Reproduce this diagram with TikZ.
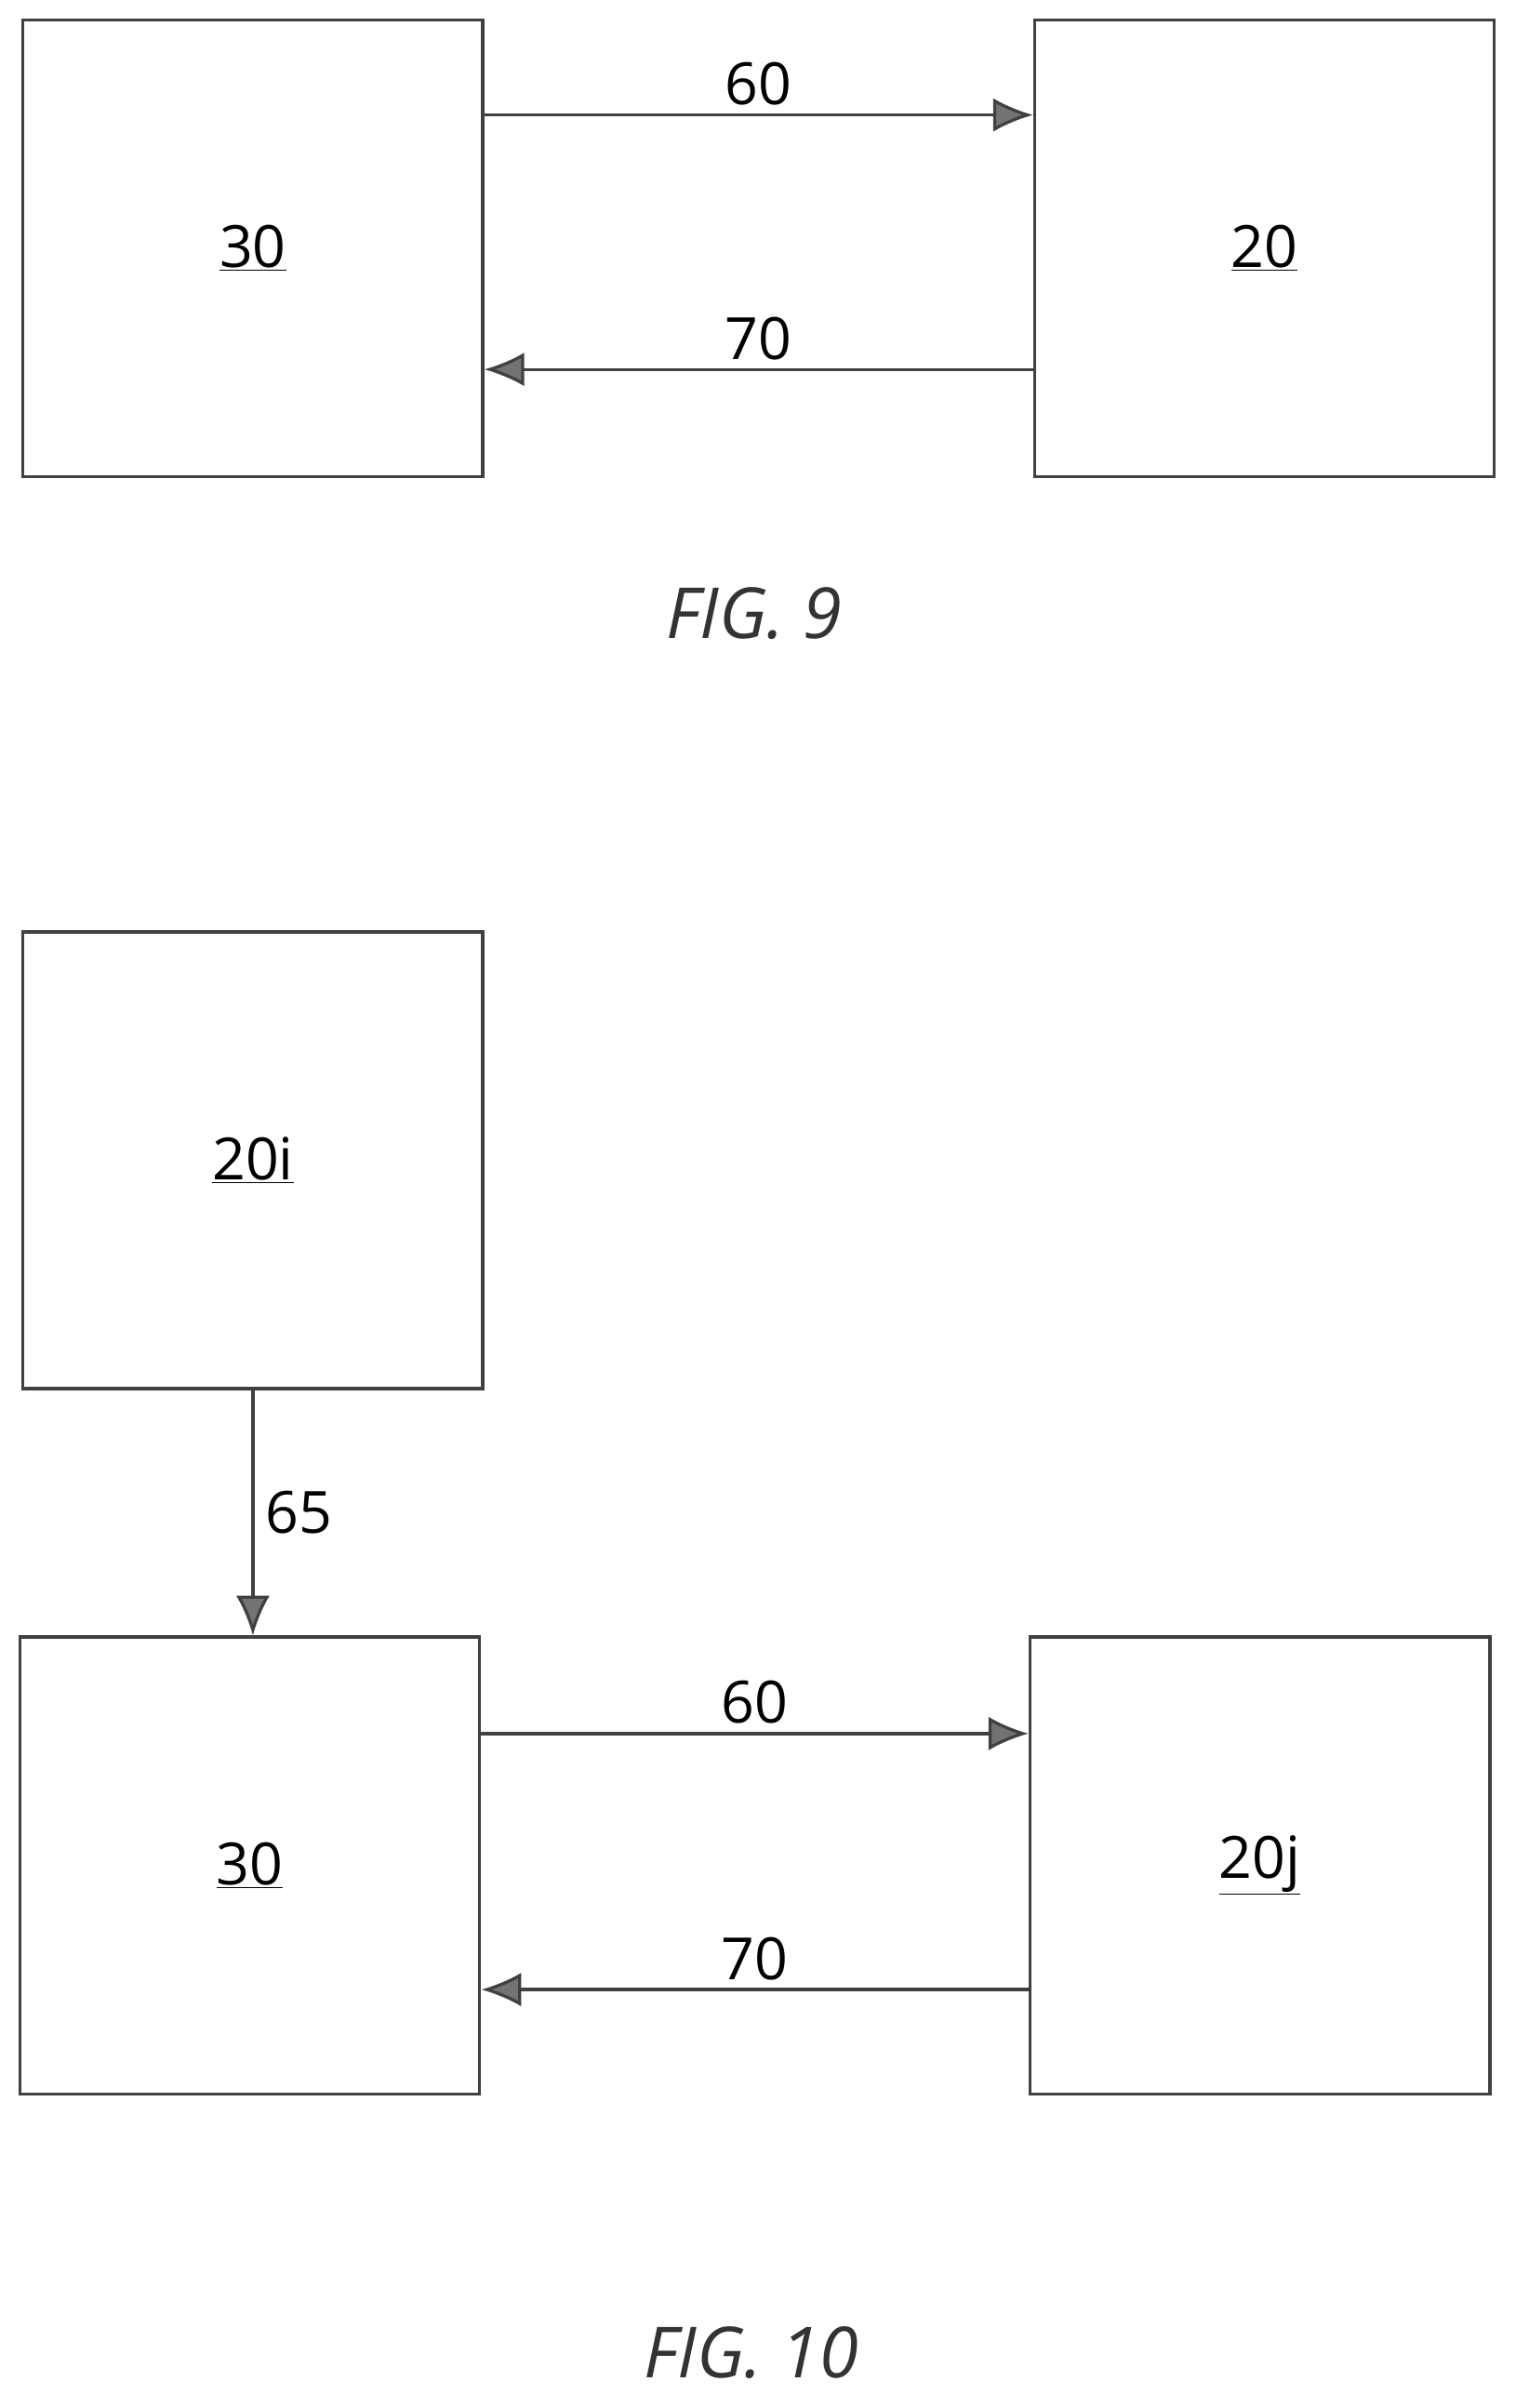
\documentclass[tikz,border=0pt]{standalone}
\usepackage{fontspec}
\setmainfont{Open Sans}
\usetikzlibrary{arrows.meta}
\tikzset{every picture/.style={line width=2pt}}
\tikzset{blk/.style={draw=black!75,minimum width=300pt,minimum height=298pt,inner sep=0pt,font=\fontsize{38}{42}\selectfont},
  lnk/.style={draw=black!75,-{Latex[length=26pt,width=22pt,fill=black!55]}},
  lbl/.style={font=\fontsize{38}{42}\selectfont},
  figcap/.style={font=\fontsize{46}{50}\selectfont\itshape,text=black!80}}
\begin{document}
\begin{tikzpicture}[x=1pt,y=1pt,yscale=-1,xscale=1]
	\useasboundingbox (0,0) rectangle (989,1571);
	% Fig. 9
	\node [blk] (a30) at (165,162) {\underline{30}};
	\node [blk] (a20) at (825,162) {\underline{20}};
	\draw [lnk] ([yshift=-87pt]a30.east) -- ([yshift=-87pt]a20.west) node [lbl,midway,above=2pt] {60};
	\draw [lnk] ([yshift=79pt]a20.west) -- ([yshift=79pt]a30.east) node [lbl,midway,above=2pt] {70};
	\node [figcap] (f9) at (492,400) {FIG. 9};
	% Fig. 10
	\node [blk] (b20i) at (165,757) {\underline{20i}};
	\node [blk] (b30) at (163,1217) {\underline{30}};
	\node [blk] (b20j) at (822,1217) {\underline{20j}};
	\draw [lnk] (b20i.south) -- (b20i.south |- b30.north) node [lbl,midway,right=4pt] {65};
	\draw [lnk] ([yshift=-86pt]b30.east) -- ([yshift=-86pt]b20j.west) node [lbl,midway,above=2pt] {60};
	\draw [lnk] ([yshift=81pt]b20j.west) -- ([yshift=81pt]b30.east) node [lbl,midway,above=2pt] {70};
	\node [figcap] (f10) at (490,1535) {FIG. 10};
\end{tikzpicture}
\end{document}
